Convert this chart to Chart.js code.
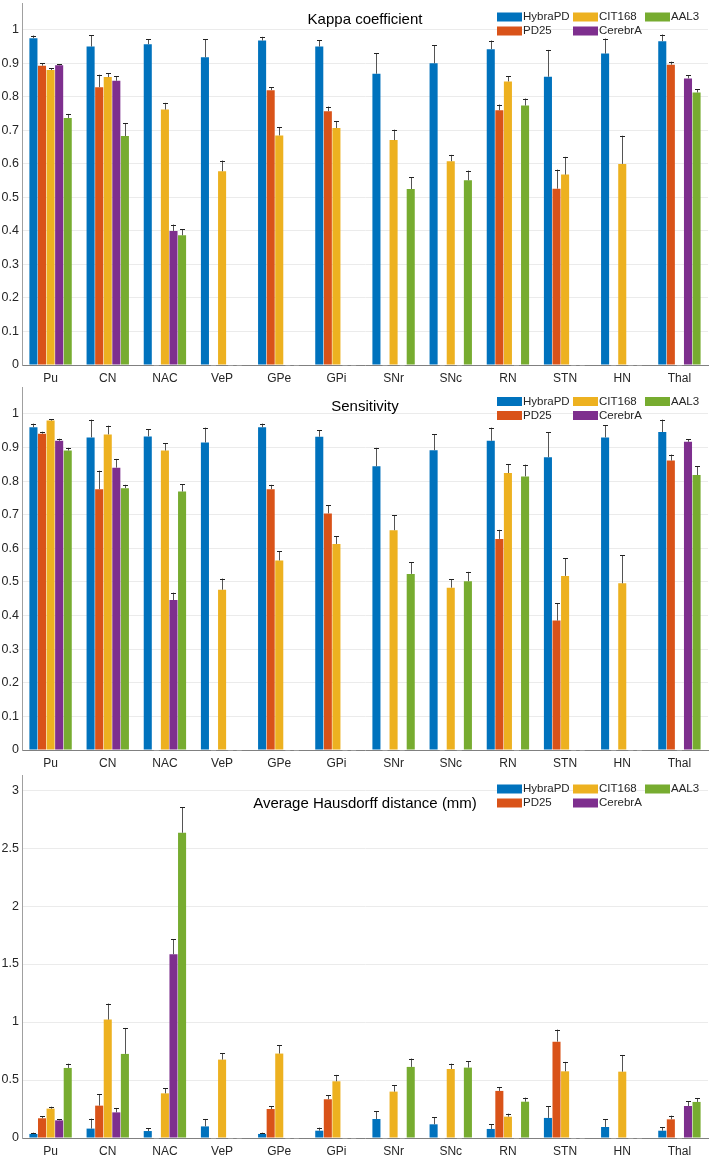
<!DOCTYPE html>
<html>
<head>
<meta charset="utf-8">
<script src="https://cdn.jsdelivr.net/npm/chart.js@4"></script>
<style>
  body { margin: 0; background: #fff; }
  .box { position: absolute; left: 0; width: 709px; }
</style>
</head>
<body>
<div class="box" style="top:0;height:387px"><canvas id="kappa"></canvas></div>
<div class="box" style="top:387px;height:388px"><canvas id="sens"></canvas></div>
<div class="box" style="top:775px;height:381px"><canvas id="hd"></canvas></div>
<script>
var regions = ['Pu', 'CN', 'NAC', 'VeP', 'GPe', 'GPi', 'SNr', 'SNc', 'RN', 'STN', 'HN', 'Thal'];
var atlases = ['HybraPD', 'PD25', 'CIT168', 'CerebrA', 'AAL3'];
var colors = ['#0072BD', '#D95319', '#EDB120', '#7E2F8E', '#77AC30'];

// Kappa coefficient (mean, error)
var kappaHybraPD = [0.975, 0.950, 0.957, 0.918, 0.968, 0.950, 0.869, 0.900, 0.942, 0.860, 0.929, 0.966];
var kappaPD25    = [0.893, 0.829, 0, 0, 0.820, 0.757, 0, 0, 0.760, 0.526, 0, 0.896];
var kappaCIT168  = [0.880, 0.859, 0.762, 0.578, 0.685, 0.707, 0.671, 0.608, 0.846, 0.568, 0.600, 0];
var kappaCerebrA = [0.894, 0.848, 0.400, 0, 0, 0, 0, 0, 0, 0, 0, 0.855];
var kappaAAL3    = [0.737, 0.683, 0.387, 0, 0, 0, 0.525, 0.551, 0.774, 0, 0, 0.813];
var kappaHybraPDErr = [0.008, 0.034, 0.015, 0.054, 0.011, 0.019, 0.061, 0.054, 0.026, 0.080, 0.045, 0.020];
var kappaPD25Err    = [0.007, 0.037, 0, 0, 0.008, 0.014, 0, 0, 0.017, 0.057, 0, 0.009];
var kappaCIT168Err  = [0.005, 0.012, 0.020, 0.032, 0.025, 0.020, 0.031, 0.019, 0.015, 0.053, 0.084, 0];
var kappaCerebrAErr = [0.004, 0.014, 0.019, 0, 0, 0, 0, 0, 0, 0, 0, 0.010];
var kappaAAL3Err    = [0.012, 0.039, 0.018, 0, 0, 0, 0.035, 0.029, 0.021, 0, 0, 0.010];

// Sensitivity
var sensHybraPD = [0.960, 0.930, 0.933, 0.915, 0.960, 0.932, 0.844, 0.892, 0.920, 0.871, 0.930, 0.946];
var sensPD25    = [0.941, 0.776, 0, 0, 0.776, 0.704, 0, 0, 0.628, 0.385, 0, 0.861];
var sensCIT168  = [0.980, 0.939, 0.891, 0.477, 0.564, 0.613, 0.654, 0.483, 0.824, 0.518, 0.496, 0];
var sensCerebrA = [0.920, 0.840, 0.446, 0, 0, 0, 0, 0, 0, 0, 0, 0.917];
var sensAAL3    = [0.891, 0.779, 0.769, 0, 0, 0, 0.524, 0.502, 0.814, 0, 0, 0.818];
var sensHybraPDErr = [0.011, 0.053, 0.021, 0.044, 0.011, 0.019, 0.055, 0.048, 0.039, 0.074, 0.036, 0.037];
var sensPD25Err    = [0.006, 0.055, 0, 0, 0.013, 0.024, 0, 0, 0.027, 0.051, 0, 0.018];
var sensCIT168Err  = [0.004, 0.026, 0.022, 0.033, 0.027, 0.023, 0.044, 0.025, 0.027, 0.052, 0.084, 0];
var sensCerebrAErr = [0.006, 0.026, 0.022, 0, 0, 0, 0, 0, 0, 0, 0, 0.008];
var sensAAL3Err    = [0.008, 0.010, 0.022, 0, 0, 0, 0.035, 0.028, 0.035, 0, 0, 0.026];

// Average Hausdorff distance (mm)
var hdHybraPD = [0.035, 0.081, 0.060, 0.100, 0.035, 0.063, 0.164, 0.118, 0.078, 0.173, 0.095, 0.063];
var hdPD25    = [0.170, 0.279, 0, 0, 0.250, 0.334, 0, 0, 0.406, 0.831, 0, 0.161];
var hdCIT168  = [0.253, 1.021, 0.385, 0.676, 0.728, 0.489, 0.400, 0.595, 0.184, 0.575, 0.572, 0];
var hdCerebrA = [0.152, 0.221, 1.585, 0, 0, 0, 0, 0, 0, 0, 0, 0.276];
var hdAAL3    = [0.604, 0.725, 2.632, 0, 0, 0, 0.613, 0.607, 0.313, 0, 0, 0.311];
var hdHybraPDErr = [0.011, 0.086, 0.026, 0.064, 0.011, 0.026, 0.066, 0.063, 0.040, 0.100, 0.066, 0.029];
var hdPD25Err    = [0.017, 0.098, 0, 0, 0.023, 0.034, 0, 0, 0.034, 0.104, 0, 0.032];
var hdCIT168Err  = [0.017, 0.138, 0.044, 0.057, 0.074, 0.055, 0.057, 0.046, 0.026, 0.081, 0.144, 0];
var hdCerebrAErr = [0.009, 0.038, 0.129, 0, 0, 0, 0, 0, 0, 0, 0, 0.040];
var hdAAL3Err    = [0.037, 0.224, 0.218, 0, 0, 0, 0.072, 0.054, 0.035, 0, 0, 0.034];

var unitTicks = [0, 0.1, 0.2, 0.3, 0.4, 0.5, 0.6, 0.7, 0.8, 0.9, 1];
var hdTicks = [0, 0.5, 1, 1.5, 2, 2.5, 3];

var FONT = "'Liberation Sans', Arial, sans-serif";

// error bars (upward only) and the small zero-bar dashes, drawn through the scales
var errorBars = {
  id: 'errorBars',
  afterDatasetsDraw: function(chart) {
    var ctx = chart.ctx, y = chart.scales.y;
    ctx.save();
    ctx.lineWidth = 1;
    chart.data.datasets.forEach(function(ds, i) {
      var meta = chart.getDatasetMeta(i);
      meta.data.forEach(function(bar, j) {
        var x = Math.round(bar.x) + 0.5;
        if (!ds.data[j]) {
          ctx.strokeStyle = '#9a9a9a';
          ctx.beginPath();
          ctx.moveTo(bar.x - bar.width / 2 + 1.5, Math.round(bar.y) + 0.5);
          ctx.lineTo(bar.x + bar.width / 2 - 1.5, Math.round(bar.y) + 0.5);
          ctx.stroke();
          return;
        }
        var e = ds.err[j];
        if (!e) return;
        var top = y.getPixelForValue(ds.data[j] + e);
        ctx.strokeStyle = '#555';
        ctx.beginPath();
        ctx.moveTo(x, bar.y);
        ctx.lineTo(x, top);
        ctx.stroke();
        ctx.strokeStyle = '#222';
        ctx.beginPath();
        ctx.moveTo(x - 2.5, Math.round(top) + 0.5);
        ctx.lineTo(x + 2.5, Math.round(top) + 0.5);
        ctx.stroke();
      });
    });
    ctx.restore();
  }
};

// title + 3-column legend inside the axes
var overlay = {
  id: 'overlay',
  afterDraw: function(chart) {
    var ctx = chart.ctx, a = chart.chartArea, o = chart.options.plugins.overlay;
    ctx.save();
    ctx.fillStyle = '#000';
    ctx.font = '15px ' + FONT;
    ctx.textAlign = 'center';
    ctx.textBaseline = 'middle';
    ctx.fillText(o.title, (a.left + a.right) / 2, a.top + o.titleY);
    var cols = [-211, -135, -63];
    var slots = [[0, 0], [0, 1], [1, 0], [1, 1], [2, 0]];
    ctx.font = '11.5px ' + FONT;
    ctx.textAlign = 'left';
    chart.data.datasets.forEach(function(ds, i) {
      var bx = a.right + cols[slots[i][0]];
      var by = a.top + o.legendY + slots[i][1] * 14;
      ctx.fillStyle = ds.backgroundColor;
      ctx.fillRect(bx, by - 4.5, 25, 9);
      ctx.fillStyle = '#262626';
      ctx.fillText(ds.label, bx + 26, by);
    });
    ctx.restore();
  }
};

function makeChart(id, title, series, errs, ticks, yMax, topPad, xHeight, titleY, legendY) {
  var datasets = atlases.map(function(name, i) {
    return {
      label: name,
      data: series[i],
      err: errs[i],
      backgroundColor: colors[i],
      borderWidth: 0,
      barPercentage: 0.94,
      categoryPercentage: 0.75
    };
  });
  return new Chart(id, {
    type: 'bar',
    data: { labels: regions, datasets: datasets },
    plugins: [errorBars, overlay],
    options: {
      responsive: true,
      maintainAspectRatio: false,
      devicePixelRatio: 1,
      animation: false,
      layout: { padding: { top: topPad, right: 1, left: 0, bottom: 0 } },
      plugins: {
        legend: { display: false },
        tooltip: { enabled: false },
        overlay: { title: title, titleY: titleY, legendY: legendY }
      },
      scales: {
        x: {
          grid: { display: false, drawTicks: false },
          border: { color: '#808080' },
          ticks: { color: '#262626', font: { family: FONT, size: 12 }, padding: 6 },
          afterFit: function(s) { s.height = xHeight; }
        },
        y: {
          min: 0,
          max: yMax,
          grid: { color: '#ebebeb', drawTicks: false },
          border: { color: '#a0a0a0' },
          ticks: {
            color: '#262626',
            font: { family: FONT, size: 12.5 },
            padding: 3,
            callback: function(v) { return String(v); }
          },
          afterBuildTicks: function(s) {
            s.ticks = ticks.map(function(v) { return { value: v }; });
          },
          afterFit: function(s) {
            s.width = 22;
            s.paddingTop = 0;
            s.paddingBottom = 0;
          }
        }
      }
    }
  });
}

makeChart('kappa', 'Kappa coefficient',
  [kappaHybraPD, kappaPD25, kappaCIT168, kappaCerebrA, kappaAAL3],
  [kappaHybraPDErr, kappaPD25Err, kappaCIT168Err, kappaCerebrAErr, kappaAAL3Err],
  unitTicks, 1.08, 3, 22, 17, 14);

makeChart('sens', 'Sensitivity',
  [sensHybraPD, sensPD25, sensCIT168, sensCerebrA, sensAAL3],
  [sensHybraPDErr, sensPD25Err, sensCIT168Err, sensCerebrAErr, sensAAL3Err],
  unitTicks, 1.08, 0, 25, 20, 14.5);

makeChart('hd', 'Average Hausdorff distance (mm)',
  [hdHybraPD, hdPD25, hdCIT168, hdCerebrA, hdAAL3],
  [hdHybraPDErr, hdPD25Err, hdCIT168Err, hdCerebrAErr, hdAAL3Err],
  hdTicks, 3.13, 0, 18, 29, 14);
</script>
</body>
</html>
